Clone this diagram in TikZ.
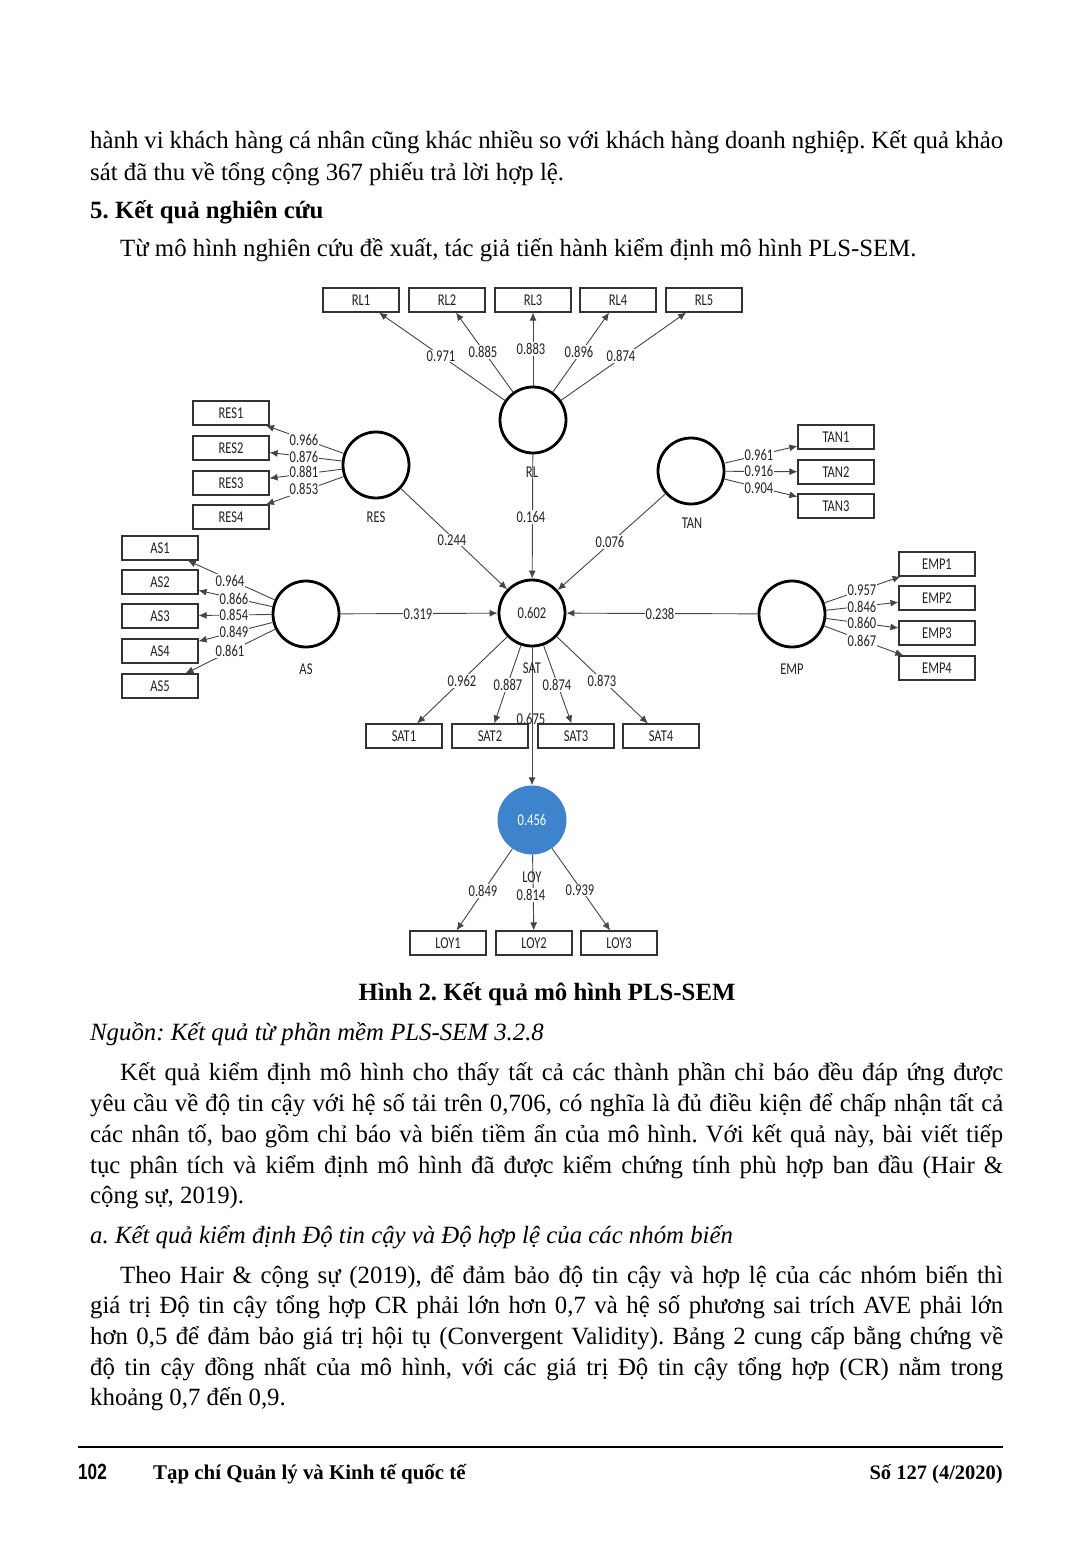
\documentclass[tikz,border=0pt]{standalone}
\usepackage{fontspec}
\setmainfont{Liberation Serif}
\newfontfamily\dg{Carlito}[FakeStretch=0.76]
\newfontfamily\ftsans{Liberation Sans}[FakeStretch=0.78]
\usetikzlibrary{arrows.meta}
\definecolor{linec}{HTML}{454545}
\definecolor{boxc}{HTML}{333333}
\definecolor{txtc}{HTML}{222222}
\definecolor{loyblue}{RGB}{62,132,204}
\frenchspacing
\begin{document}
\begin{tikzpicture}[x=1pt,y=-1pt,
  body/.style={anchor=base west, inner sep=0pt, font=\fontsize{24.8}{31}\selectfont},
  ind/.style={draw=boxc, line width=1.1pt, minimum width=76pt, minimum height=24pt, inner sep=0pt, font=\dg\fontsize{16.5}{16.5}\selectfont, text=txtc},
  lat/.style={circle, draw=black, line width=2.8pt, minimum size=66pt, inner sep=0pt, font=\dg\fontsize{16.5}{16.5}\selectfont, text=txtc},
  ld/.style={font=\dg\fontsize{16.5}{16.5}\selectfont, text=txtc, fill=white, inner sep=1pt},
  nm/.style={font=\dg\fontsize{16.5}{16.5}\selectfont, text=txtc, inner sep=0pt},
  arr/.style={draw=linec, line width=0.9pt, -{Latex[length=8pt,width=7pt]}},
]
\fill[white] (0,0) rectangle (1092,1564);
\useasboundingbox (0,0) rectangle (1092,1564);

% ---------- text above ----------
\node[body] (t1) at (90,148) {\makebox[913pt][s]{hành vi khách hàng cá nhân cũng khác nhiều so với khách hàng doanh nghiệp. Kết quả khảo}};
\node[body] (t2) at (90,180) {sát đã thu về tổng cộng 367 phiếu trả lời hợp lệ.};
\node[body, font=\bfseries\fontsize{24.8}{31}\selectfont] (t3) at (90,218) {5. Kết quả nghiên cứu};
\node[body] (t4) at (120,256) {Từ mô hình nghiên cứu đề xuất, tác giả tiến hành kiểm định mô hình PLS-SEM.};

% ---------- latent variables ----------
\node[lat] (RL) at (533,420) {};
\node[lat] (RES) at (376,465) {};
\node[lat] (TAN) at (691,471) {};
\node[lat] (AS) at (306,614) {};
\node[lat] (SAT) at (532,613) {0.602};
\node[lat] (EMP) at (792,614) {};
\node[circle, fill=loyblue, minimum size=69pt, inner sep=0pt, text=white, font=\dg\fontsize{16.5}{16.5}\selectfont] (LOY) at (532,820) {0.456};

% ---------- indicators ----------
\node[ind] (RL1) at (361,300) {RL1};
\node[ind] (RL2) at (447,300) {RL2};
\node[ind] (RL3) at (533,300) {RL3};
\node[ind] (RL4) at (618,300) {RL4};
\node[ind] (RL5) at (704,300) {RL5};
\node[ind] (RES1) at (231,413) {RES1};
\node[ind] (RES2) at (231,448) {RES2};
\node[ind] (RES3) at (231,483) {RES3};
\node[ind] (RES4) at (231,517) {RES4};
\node[ind] (TAN1) at (836,437) {TAN1};
\node[ind] (TAN2) at (836,472) {TAN2};
\node[ind] (TAN3) at (836,506) {TAN3};
\node[ind] (AS1) at (160,548) {AS1};
\node[ind] (AS2) at (160,582) {AS2};
\node[ind] (AS3) at (160,616) {AS3};
\node[ind] (AS4) at (160,651) {AS4};
\node[ind] (AS5) at (160,686) {AS5};
\node[ind] (EMP1) at (937,564) {EMP1};
\node[ind] (EMP2) at (937,598) {EMP2};
\node[ind] (EMP3) at (937,633) {EMP3};
\node[ind] (EMP4) at (937,668) {EMP4};
\node[ind] (SAT1) at (404,736) {SAT1};
\node[ind] (SAT2) at (490,736) {SAT2};
\node[ind] (SAT3) at (576,736) {SAT3};
\node[ind] (SAT4) at (661,736) {SAT4};
\node[ind] (LOY1) at (448,943) {LOY1};
\node[ind] (LOY2) at (534,943) {LOY2};
\node[ind] (LOY3) at (619,943) {LOY3};

% ---------- connectors ----------
\foreach \i in {1,...,5} \draw[arr] (RL) -- (RL\i);
\foreach \i in {1,...,4} \draw[arr] (RES) -- (RES\i);
\foreach \i in {1,...,3} \draw[arr] (TAN) -- (TAN\i);
\foreach \i in {1,...,5} \draw[arr] (AS) -- (AS\i);
\foreach \i in {1,...,4} \draw[arr] (EMP) -- (EMP\i);
\foreach \i in {1,...,4} \draw[arr] (SAT) -- (SAT\i);
\foreach \i in {1,...,3} \draw[arr] (LOY) -- (LOY\i);
\draw[arr] (RES) -- (SAT);
\draw[arr] (RL) -- (SAT);
\draw[arr] (TAN) -- (SAT);
\draw[arr] (AS) -- (SAT);
\draw[arr] (EMP) -- (SAT);
\draw[arr] (SAT) -- (LOY);

% ---------- loadings ----------
\node[ld] (lr1) at (441,356) {0.971};
\node[ld] (lr2) at (483,352) {0.885};
\node[ld] (lr3) at (531,349) {0.883};
\node[ld] (lr4) at (579,352) {0.896};
\node[ld] (lr5) at (621,356) {0.874};
\node[ld] (le1) at (304,440) {0.966};
\node[ld] (le2) at (304,457) {0.876};
\node[ld] (le3) at (304,472) {0.881};
\node[ld] (le4) at (304,489) {0.853};
\node[ld] (lt1) at (759,455) {0.961};
\node[ld] (lt2) at (759,471) {0.916};
\node[ld] (lt3) at (759,488) {0.904};
\node[ld] (la1) at (230,581) {0.964};
\node[ld] (la2) at (234,599) {0.866};
\node[ld] (la3) at (234,615) {0.854};
\node[ld] (la4) at (234,632) {0.849};
\node[ld] (la5) at (230,651) {0.861};
\node[ld] (lm1) at (862,590) {0.957};
\node[ld] (lm2) at (862,607) {0.846};
\node[ld] (lm3) at (862,623) {0.860};
\node[ld] (lm4) at (862,641) {0.867};
\node[ld] (ls1) at (462,681) {0.962};
\node[ld] (ls2) at (508,685) {0.887};
\node[ld] (ls3) at (557,685) {0.874};
\node[ld] (ls4) at (602,681) {0.873};
\node[ld] (ly1) at (483,891) {0.849};
\node[ld] (ly2) at (531,895) {0.814};
\node[ld] (ly3) at (580,890) {0.939};
\node[ld] (p1) at (452,540) {0.244};
\node[ld] (p2) at (531,517) {0.164};
\node[ld] (p3) at (610,542) {0.076};
\node[ld] (p4) at (418,614) {0.319};
\node[ld] (p5) at (660,614) {0.238};
\node[nm] (p6) at (531,719) {0.675};

% ---------- construct names ----------
\node[nm] (nRL) at (532,472) {RL};
\node[nm] (nRES) at (376,517) {RES};
\node[nm] (nTAN) at (692,523) {TAN};
\node[nm] (nAS) at (306,669) {AS};
\node[nm] (nSAT) at (532,668) {SAT};
\node[nm] (nEMP) at (792,669) {EMP};
\node[nm] (nLOY) at (532,877) {LOY};

% ---------- text below ----------
\node[anchor=base, inner sep=0pt, font=\bfseries\fontsize{24.8}{31}\selectfont] (cap) at (547,1000) {Hình 2. Kết quả mô hình PLS-SEM};
\node[body, font=\itshape\fontsize{24.8}{31}\selectfont] (src) at (90,1040) {Nguồn: Kết quả từ phần mềm PLS-SEM 3.2.8};
\node[body] (b1) at (120,1080) {\makebox[883pt][s]{Kết quả kiểm định mô hình cho thấy tất cả các thành phần chỉ báo đều đáp ứng được}};
\node[body] (b2) at (90,1111) {\makebox[913pt][s]{yêu cầu về độ tin cậy với hệ số tải trên 0,706, có nghĩa là đủ điều kiện để chấp nhận tất cả}};
\node[body] (b3) at (90,1142) {\makebox[913pt][s]{các nhân tố, bao gồm chỉ báo và biến tiềm ẩn của mô hình. Với kết quả này, bài viết tiếp}};
\node[body] (b4) at (90,1173) {\makebox[913pt][s]{tục phân tích và kiểm định mô hình đã được kiểm chứng tính phù hợp ban đầu (Hair \&}};
\node[body] (b5) at (90,1203) {cộng sự, 2019).};
\node[body, font=\itshape\fontsize{24.8}{31}\selectfont] (sub) at (90,1243) {a. Kết quả kiểm định Độ tin cậy và Độ hợp lệ của các nhóm biến};
\node[body] (c1) at (120,1283) {\makebox[883pt][s]{Theo Hair \& cộng sự (2019), để đảm bảo độ tin cậy và hợp lệ của các nhóm biến thì}};
\node[body] (c2) at (90,1313) {\makebox[913pt][s]{giá trị Độ tin cậy tổng hợp CR phải lớn hơn 0,7 và hệ số phương sai trích AVE phải lớn}};
\node[body] (c3) at (90,1344) {\makebox[913pt][s]{hơn 0,5 để đảm bảo giá trị hội tụ (Convergent Validity). Bảng 2 cung cấp bằng chứng về}};
\node[body] (c4) at (90,1375) {\makebox[913pt][s]{độ tin cậy đồng nhất của mô hình, với các giá trị Độ tin cậy tổng hợp (CR) nằm trong}};
\node[body] (c5) at (90,1405) {khoảng 0,7 đến 0,9.};

% ---------- footer ----------
\coordinate (fl) at (78,1447);
\coordinate (fr) at (1003,1447);
\draw[line width=1.3pt] (fl) -- (fr);
\node[anchor=base west, inner sep=0pt, font=\ftsans\bfseries\fontsize{22}{22}\selectfont] (pg) at (78,1479) {102};
\node[anchor=base west, inner sep=0pt, font=\bfseries\fontsize{20.9}{22}\selectfont] (jn) at (153,1479) {Tạp chí Quản lý và Kinh tế quốc tế};
\node[anchor=base east, inner sep=0pt, font=\bfseries\fontsize{20.5}{22}\selectfont] (iss) at (1003,1479) {Số 127 (4/2020)};
\end{tikzpicture}
\end{document}
